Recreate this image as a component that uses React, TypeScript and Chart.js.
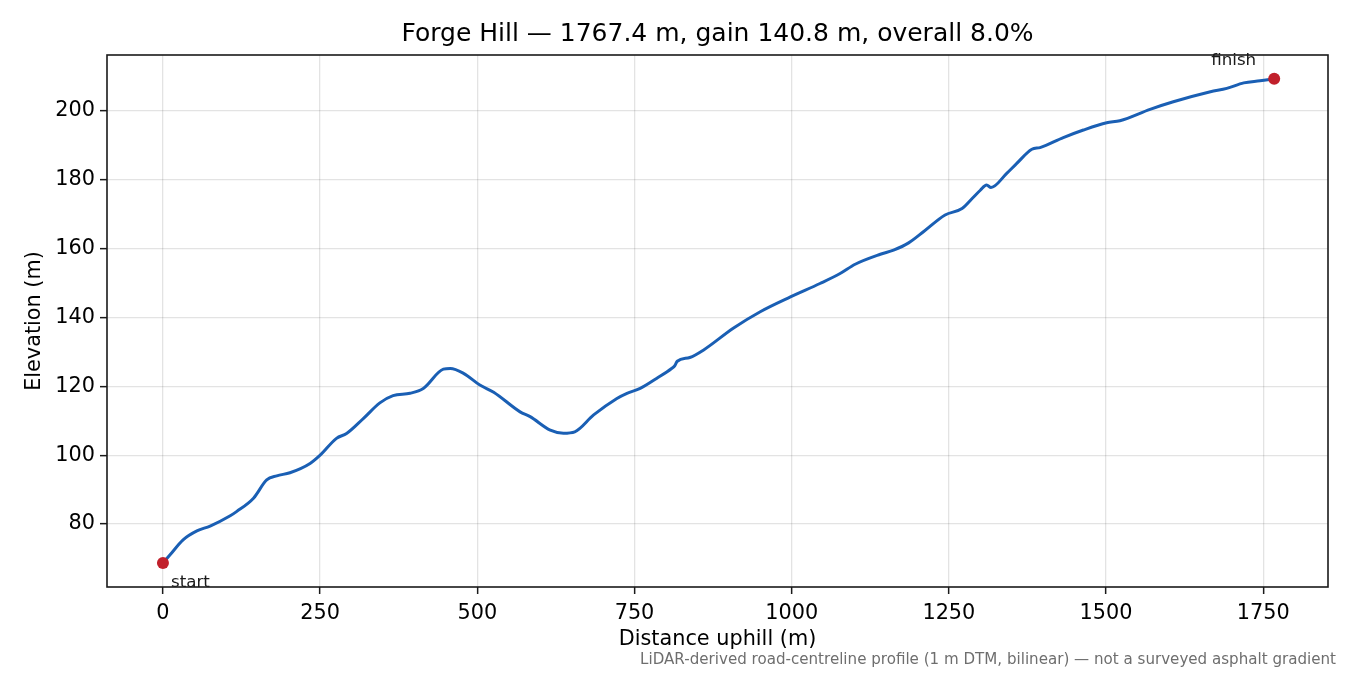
import React, { useEffect, useRef } from 'react';
import { Chart, registerables } from 'chart.js';

Chart.register(...registerables);

const distance = [
  0, 11, 32, 54, 75, 107, 117, 144, 165, 181, 202, 234, 250, 276, 292, 319, 345, 366, 393, 414,
  446, 457, 478, 504, 526, 568, 584, 616, 637, 655, 685, 722, 738, 759, 785, 809, 814, 818, 838,
  860, 907, 950, 998, 1045, 1077, 1101, 1141, 1162, 1186, 1210, 1244, 1271, 1287, 1300, 1310,
  1317, 1342, 1358, 1382, 1395, 1432, 1464, 1501, 1522, 1570, 1607, 1666, 1692, 1719, 1745, 1767.4,
];
const elevation = [
  68.7, 71.0, 75.4, 78.0, 79.4, 82.4, 83.6, 87.5, 92.8, 94.0, 94.9, 97.6, 100.0, 104.9, 106.3,
  110.7, 115.2, 117.3, 118.0, 119.4, 125.0, 125.2, 123.8, 120.4, 118.3, 112.6, 111.2, 107.3, 106.4,
  106.8, 111.7, 116.5, 118.0, 119.4, 122.3, 125.2, 126.0, 127.3, 128.4, 130.6, 136.9, 141.7, 146.0,
  149.9, 152.8, 155.5, 158.4, 159.6, 161.7, 165.0, 169.8, 171.7, 174.6, 177.0, 178.5, 177.8, 181.9,
  184.8, 188.9, 189.4, 192.3, 194.5, 196.6, 197.2, 200.5, 202.7, 205.6, 206.6, 208.2, 208.8, 209.4,
];

const xTicks = [0, 250, 500, 750, 1000, 1250, 1500, 1750];
const yTicks = [80, 100, 120, 140, 160, 180, 200];

const TITLE = 'Forge Hill — 1767.4 m, gain 140.8 m, overall 8.0%';
const X_LABEL = 'Distance uphill (m)';
const Y_LABEL = 'Elevation (m)';
const NOTE = 'LiDAR-derived road-centreline profile (1 m DTM, bilinear) — not a surveyed asphalt gradient';

const FONT = '"DejaVu Sans", sans-serif';

// textos, marco y etiquetas de inicio / fin
const decorPlugin = {
  id: 'decor',
  afterDraw(chart: any) {
    const { ctx, chartArea: a, scales } = chart;
    ctx.save();
    ctx.strokeStyle = '#1a1a1a';
    ctx.lineWidth = 1.6;
    ctx.strokeRect(a.left, a.top, a.right - a.left, a.bottom - a.top);

    ctx.fillStyle = '#000';
    ctx.textAlign = 'center';
    ctx.textBaseline = 'middle';
    ctx.font = `25px ${FONT}`;
    ctx.fillText(TITLE, (a.left + a.right) / 2, 34);

    ctx.font = `20.8px ${FONT}`;
    ctx.fillText(X_LABEL, (a.left + a.right) / 2, 640);
    ctx.save();
    ctx.translate(35, (a.top + a.bottom) / 2);
    ctx.rotate(-Math.PI / 2);
    ctx.fillText(Y_LABEL, 0, 0);
    ctx.restore();

    const n = distance.length - 1;
    const sx = scales.x.getPixelForValue(distance[0]);
    const sy = scales.y.getPixelForValue(elevation[0]);
    const fx = scales.x.getPixelForValue(distance[n]);
    const fy = scales.y.getPixelForValue(elevation[n]);
    ctx.font = `16.7px ${FONT}`;
    ctx.fillStyle = '#1a1a1a';
    ctx.textAlign = 'left';
    ctx.fillText('start', sx + 8, sy + 20);
    ctx.textAlign = 'right';
    ctx.fillText('finish', fx - 18, fy - 18);

    ctx.font = `15.1px ${FONT}`;
    ctx.fillStyle = '#6e6e6e';
    ctx.textAlign = 'right';
    ctx.fillText(NOTE, 1336, 660);
    ctx.restore();
  },
};

const App: React.FC = () => {
  const canvasRef = useRef<HTMLCanvasElement>(null);

  useEffect(() => {
    document.body.style.margin = '0';
    if (!canvasRef.current) return;
    const points = distance.map((d, i) => ({ x: d, y: elevation[i] }));
    const ends = [points[0], points[points.length - 1]];

    const chart = new Chart(canvasRef.current, {
      type: 'line',
      data: {
        datasets: [
          {
            label: 'ends',
            data: ends,
            showLine: false,
            pointRadius: 6,
            pointBackgroundColor: '#c1202b',
            pointBorderWidth: 0,
            order: 0,
          },
          {
            label: 'profile',
            data: points,
            borderColor: '#1a5fb4',
            borderWidth: 3,
            pointRadius: 0,
            cubicInterpolationMode: 'monotone',
            fill: false,
            order: 1,
          },
        ],
      },
      plugins: [decorPlugin],
      options: {
        animation: false,
        responsive: true,
        maintainAspectRatio: false,
        layout: { padding: { left: 0, top: 55, right: 22, bottom: 0 } },
        plugins: {
          legend: { display: false },
          tooltip: { enabled: false },
          title: { display: false },
        },
        scales: {
          x: {
            type: 'linear',
            min: -89,
            max: 1853,
            afterBuildTicks: (s: any) => { s.ticks = xTicks.map((v) => ({ value: v })); },
            afterFit: (s: any) => { s.height = 88; },
            border: { display: false },
            grid: { color: 'rgba(0,0,0,0.11)', lineWidth: 1.3, tickColor: '#1a1a1a', tickLength: 7, tickWidth: 1.5 },
            ticks: { color: '#000', font: { family: FONT, size: 20.8 }, padding: 7, maxRotation: 0, callback: (v: any) => String(v) },
          },
          y: {
            type: 'linear',
            min: 61.7,
            max: 216.3,
            afterBuildTicks: (s: any) => { s.ticks = yTicks.map((v) => ({ value: v })); },
            afterFit: (s: any) => { s.width = 107; },
            border: { display: false },
            grid: { color: 'rgba(0,0,0,0.11)', lineWidth: 1.3, tickColor: '#1a1a1a', tickLength: 7, tickWidth: 1.5 },
            ticks: { color: '#000', font: { family: FONT, size: 20.8 }, padding: 5, callback: (v: any) => String(v) },
          },
        },
      },
    } as any);

    return () => chart.destroy();
  }, []);

  return (
    <div style={{ width: 1350, height: 675, position: 'relative' }}>
      <canvas ref={canvasRef}></canvas>
    </div>
  );
};

export default App;
